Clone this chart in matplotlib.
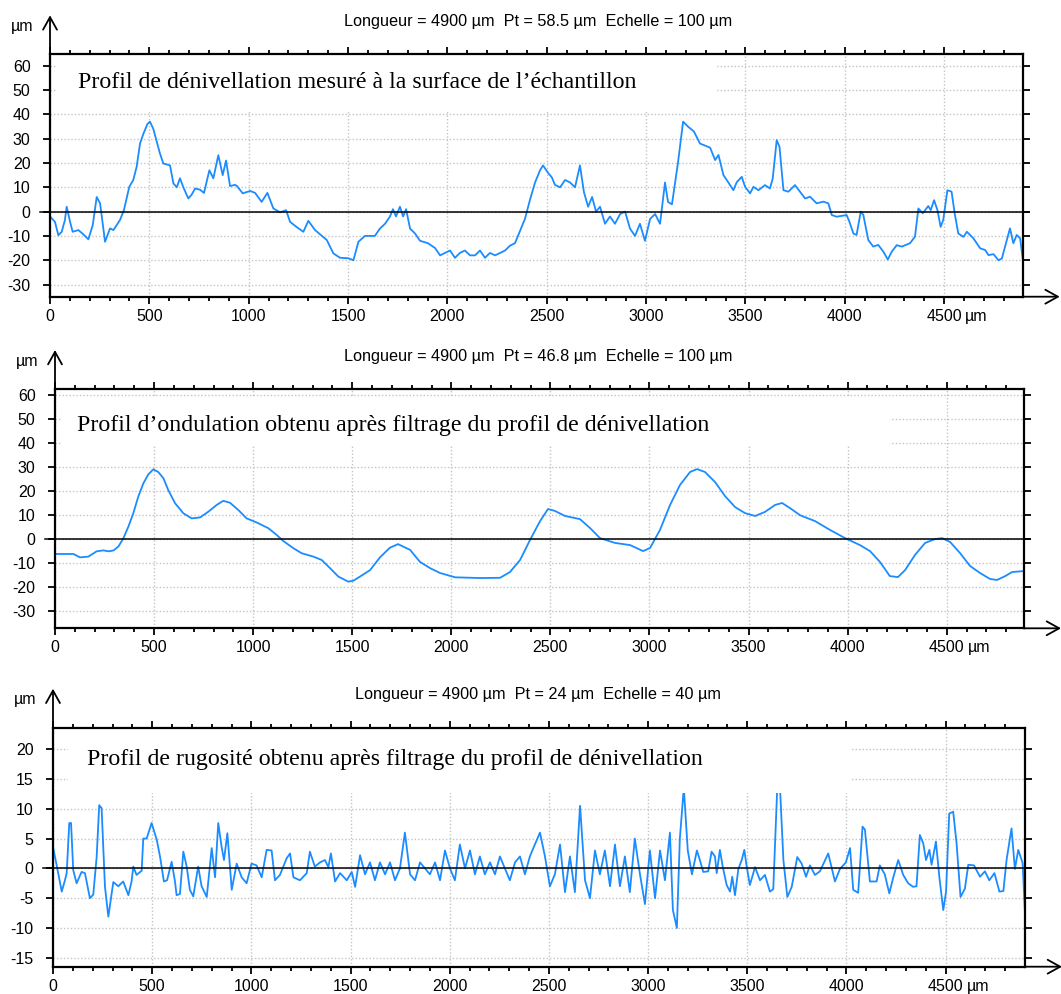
import matplotlib.pyplot as plt
from matplotlib.patches import Rectangle

plt.rcParams['axes.unicode_minus'] = False
plt.rcParams['font.family'] = ['Liberation Sans', 'DejaVu Sans']

# profil de dénivellation (µm)
x1 = [0, 25, 42, 59, 75, 84, 101, 114, 143, 170, 193, 215, 235, 252, 265, 277, 302, 319, 352, 372,
      399, 419, 436, 453, 470, 490, 503, 520, 540, 553, 570, 604, 621, 638, 654, 671, 696, 713, 730, 755,
      775, 802, 822, 847, 869, 886, 906, 931, 940, 970, 1007, 1032, 1065, 1094, 1124, 1158, 1188, 1208, 1242, 1275,
      1300, 1334, 1393, 1426, 1460, 1502, 1527, 1552, 1585, 1635, 1660, 1686, 1711, 1726, 1741, 1761, 1777, 1792, 1812, 1837,
      1862, 1902, 1938, 1963, 1988, 2013, 2038, 2063, 2088, 2114, 2139, 2164, 2189, 2214, 2240, 2265, 2290, 2315, 2340, 2365,
      2390, 2416, 2441, 2466, 2481, 2506, 2526, 2541, 2567, 2592, 2617, 2642, 2667, 2687, 2708, 2728, 2748, 2768, 2793, 2818,
      2843, 2869, 2894, 2919, 2944, 2969, 2994, 3020, 3045, 3070, 3095, 3110, 3130, 3160, 3186, 3210, 3240, 3271, 3322, 3347,
      3364, 3389, 3413, 3439, 3456, 3481, 3498, 3523, 3540, 3565, 3598, 3623, 3637, 3657, 3671, 3691, 3716, 3749, 3774, 3800,
      3825, 3858, 3892, 3917, 3934, 3959, 4009, 4023, 4043, 4059, 4080, 4093, 4118, 4143, 4168, 4194, 4216, 4236, 4261, 4286,
      4328, 4353, 4370, 4392, 4420, 4432, 4449, 4466, 4482, 4495, 4516, 4537, 4554, 4571, 4597, 4614, 4647, 4681, 4706, 4723,
      4748, 4773, 4790, 4811, 4831, 4848, 4865, 4882, 4895]
y1 = [-2, -4.2, -9.7, -8.3, -3.5, 2, -4.2, -8.3, -7.6, -9.5, -11.4, -5.6, 6, 3.4, -5, -12.4, -6.9, -7.6, -3.5, 0.6,
      10.2, 13, 18.4, 28, 32, 36, 37, 34, 28, 24, 19.8, 19, 11.6, 10, 13.7, 10, 5.4, 7, 9.5, 9,
      7.7, 17, 13.7, 23.2, 15, 21, 10.5, 11, 10.6, 7.5, 8.5, 7.7, 4, 7.7, 1.3, -0.3, 0.6, -4.2, -6.4, -8.3,
      -3.8, -7.6, -11.7, -17.2, -19, -19.2, -20, -12.4, -10, -10, -7, -5, -2, 1, -2, 2, -2, 1, -7, -9,
      -12, -13, -15, -18, -17, -16, -19, -17, -16, -18, -18, -16, -19, -17, -18, -17, -16, -14, -13, -8,
      -3, 5, 12, 17, 19, 16, 14, 11, 10, 13, 12, 10, 19, 8, 2, 6, 0, 2, -5, -2,
      -5, -1, 0, -7, -10, -5, -12, -3, -1, -5, 12, 4, 3, 20, 37, 35, 33, 28, 26.3, 21.2,
      23.3, 15, 12.1, 8.8, 12.1, 14.3, 10.2, 7.5, 10.2, 8.8, 10.9, 9.5, 13.6, 29.4, 26.7, 8.8, 8.2, 10.9, 8.2, 5.4,
      6.1, 3.4, 4.1, 3.4, -1.4, -2.1, -1.4, -4.2, -9, -9.6, 0, -1.4, -11.7, -14.4, -13.7, -16.5, -19.7, -16.5, -13.8, -14.4,
      -13, -10.3, 1.3, -0.7, 2.3, 0.6, 4.7, 0.6, -6.3, -3.5, 8.8, 8.2, -1.4, -9, -10.4, -8.3, -11, -15.1, -15.8, -17.9,
      -17.5, -20, -19.3, -13, -6.9, -13, -9.6, -11, -19.3]

# profil d'ondulation (µm)
x2 = [0, 93, 126, 168, 210, 244, 271, 296, 320, 345, 370, 395, 420, 446, 471, 496, 521, 547, 572, 606,
      648, 690, 732, 774, 816, 849, 883, 925, 967, 1018, 1077, 1119, 1152, 1203, 1245, 1304, 1346, 1388, 1430, 1480,
      1506, 1539, 1590, 1640, 1690, 1731, 1792, 1842, 1893, 1943, 2019, 2145, 2246, 2296, 2347, 2397, 2448, 2488, 2523, 2574,
      2649, 2700, 2750, 2826, 2902, 2968, 3003, 3053, 3104, 3154, 3205, 3240, 3280, 3331, 3381, 3432, 3482, 3533, 3583, 3634,
      3669, 3709, 3760, 3835, 3911, 3987, 4062, 4113, 4163, 4213, 4254, 4290, 4340, 4391, 4441, 4477, 4517, 4567, 4618, 4668,
      4719, 4754, 4795, 4830, 4890]
y2 = [-6.1, -6.1, -7.5, -7.2, -5, -4.6, -5, -4.6, -3, 0.4, 5.2, 10.8, 17.7, 23.3, 27, 29.1, 28, 25.4, 20.4, 15,
      10.8, 8.7, 9.1, 11.5, 14.3, 16, 15.2, 12.2, 8.7, 7, 4.6, 1.8, -0.7, -3.7, -5.8, -7.2, -8.6, -12, -15.5, -17.6,
      -17.2, -15.5, -12.8, -7.5, -3.5, -2, -4.4, -9.4, -12, -14, -15.8, -16.1, -16, -13.6, -8.6, -0.3, 7.6, 12.6, 11.8, 9.7,
      8.4, 4.7, 0.5, -1.5, -2.4, -4.9, -3.6, 3.9, 14.3, 22.6, 28, 29.2, 28, 23.8, 18, 13.4, 10.9, 9.7, 11.4, 14.3,
      15.1, 13, 10, 7.6, 3.9, 0.5, -2.4, -4.9, -9.4, -15.3, -15.7, -12.8, -6.5, -1.5, 0.1, 0.5, -1.1, -5.7, -11.1, -14,
      -16.5, -16.9, -15.3, -13.6, -13.2]

# profil de rugosité (µm)
x3 = [0, 18, 44, 61, 69, 82, 91, 102, 119, 144, 161, 186, 203, 220, 233, 245, 262, 279, 304, 329,
      354, 380, 396, 405, 421, 447, 455, 472, 497, 523, 540, 559, 575, 598, 615, 623, 640, 657, 674, 690,
      707, 732, 749, 775, 800, 817, 833, 850, 862, 879, 901, 926, 951, 976, 1001, 1026, 1052, 1077, 1102, 1119,
      1144, 1178, 1195, 1212, 1245, 1279, 1295, 1320, 1346, 1371, 1388, 1401, 1422, 1447, 1481, 1506, 1523, 1548, 1573, 1598,
      1623, 1648, 1674, 1699, 1724, 1749, 1774, 1800, 1825, 1850, 1875, 1900, 1926, 1951, 1976, 2001, 2026, 2051, 2077, 2102,
      2127, 2152, 2177, 2203, 2228, 2253, 2278, 2303, 2329, 2354, 2379, 2404, 2429, 2455, 2480, 2505, 2530, 2556, 2581, 2606,
      2631, 2657, 2682, 2707, 2732, 2757, 2782, 2808, 2833, 2858, 2883, 2908, 2933, 2959, 2984, 3009, 3035, 3060, 3085, 3110,
      3125, 3145, 3160, 3180, 3200, 3221, 3246, 3261, 3278, 3303, 3320, 3337, 3346, 3362, 3376, 3396, 3413, 3424, 3438, 3455,
      3472, 3485, 3497, 3513, 3539, 3564, 3589, 3614, 3631, 3651, 3665, 3682, 3702, 3724, 3752, 3774, 3796, 3816, 3841, 3866,
      3908, 3942, 3967, 3997, 4018, 4034, 4059, 4081, 4093, 4118, 4152, 4168, 4193, 4216, 4236, 4261, 4286, 4311, 4336, 4353,
      4370, 4387, 4401, 4418, 4429, 4451, 4468, 4488, 4502, 4518, 4538, 4555, 4575, 4597, 4614, 4643, 4673, 4698, 4720, 4746,
      4771, 4791, 4807, 4832, 4849, 4866, 4888, 4900]
y3 = [3.6, 0.6, -3.9, -1.9, -0.8, 7.6, 7.6, -0.3, -2.5, -0.6, -0.8, -5, -4.4, 1.9, 10.6, 10.1, -3.1, -8.1, -2.3, -3,
      -2.2, -4.5, -2.2, 0.3, -1.1, -0.4, 5, 5, 7.6, 4.8, 1.9, -2.2, -2, 1.1, -2.2, -4.5, -4.3, 2.8, 0.3, -3.6,
      -4.7, 0.3, -3, -4.8, 3.4, -1.5, 7.6, 3.6, 1.4, 5.9, -3.6, 0.8, -1.5, -2.5, 0.8, 0.5, -1.5, 3.1, 3, -2,
      -1.1, 1.7, 2.5, -1.5, -2, -0.8, 2.8, 0.3, 1, 1.4, 0.2, 2.5, -2.2, -0.8, -2, -0.6, -3.1, 2.2, -1, 1,
      -2, 1, -1, 1, -2, 0, 6, -1, -2, 1, 0, -1, 1, -2, 3, 0, -2, 4, 0, 3,
      -1, 2, -1, 1, -1, 2, 0, -2, 1, 2, -1, 2, 4, 6, 2, -3, -1, 4, -4, 2,
      -4, 10.5, -2, -5, 3, -1, 3, -3, 4, -3, 2, -4, 5, -1, -6, 3, -5, 3, -2, 6,
      -7, -10, 5, 13.5, 3, -1, 3, 1.4, -0.6, -0.5, 2.8, 2, -0.8, 3.1, 0.3, -2.8, -3.9, -1.4, -4.5, -0.1,
      1.4, 3.1, 0.3, -2.8, 0.2, -2, -1.1, -3.9, -3.5, 13.5, 13.5, 1.4, -4.8, -3.1, 1.9, 0.8, -1.4, 0.5, -1.1, -0.5,
      2.5, -2.2, -0.1, 1, 3.4, -3.6, -4.1, 7, 6.5, -2.2, -2.2, 0.5, -1, -4.2, -1.5, 1.4, -1.1, -2.5, -3.1, -3,
      5.6, 4.2, 1.4, 3.1, 0.6, 4.5, -1.4, -7, -3.9, 9.2, 9.5, 4.2, -4.8, -3.4, 0.6, 0.5, -1.4, -0.5, -2, -0.8,
      -3.9, -3.8, 1.4, 6.7, -0.1, 3.1, 0.9, -7.6]

titles = ['Longueur = 4900 µm  Pt = 58.5 µm  Echelle = 100 µm',
          'Longueur = 4900 µm  Pt = 46.8 µm  Echelle = 100 µm',
          'Longueur = 4900 µm  Pt = 24 µm  Echelle = 40 µm']
notes = ['Profil de dénivellation mesuré à la surface de l\u2019échantillon',
         'Profil d\u2019ondulation obtenu après filtrage du profil de dénivellation',
         'Profil de rugosité obtenu après filtrage du profil de dénivellation']
xticks = [0, 500, 1000, 1500, 2000, 2500, 3000, 3500, 4000, 4500]
xticklabels = ['0', '500', '1000', '1500', '2000', '2500', '3000', '3500', '4000', '4500']
yticks = [list(range(-30, 61, 10)), list(range(-30, 61, 10)), list(range(-15, 21, 5))]

W, H = 1061, 994
frames = [(50, 54.3, 1022.7, 296.7), (55, 389, 1024, 628.3), (53, 727.7, 1025, 966.7)]
xmaxs = [4895, 4890, 4900]
ylims = [(-35, 64.7), (-37, 62.5), (-16.5, 23.6)]
boxes = [(57, 54.3, 716, 110), (62, 397, 890, 446), (68, 727.7, 850, 793)]
note_xy = [(78, 88.5), (77, 431), (87, 765)]

fig = plt.figure(figsize=(W / 100, H / 100), dpi=100)
blue = '#1a8cff'
grey = '#c4c4c4'

for i, (xs, ys) in enumerate([(x1, y1), (x2, y2), (x3, y3)]):
    l, t, r, b = frames[i]
    pw, ph = r - l, b - t
    ax = fig.add_axes([l / W, 1 - b / H, pw / W, ph / H])
    ax.plot(xs, ys, color=blue, lw=1.3, zorder=2)
    ax.plot([-50, xmaxs[i] + 30], [0, 0], color='k', lw=1.1, clip_on=False, zorder=3)
    ax.set_xlim(0, xmaxs[i])
    ax.set_ylim(*ylims[i])

    ax.set_xticks(xticks)
    ax.set_xticklabels(xticklabels)
    ax.set_xticks(range(0, xmaxs[i], 100), minor=True)
    ax.set_yticks(yticks[i])
    ax.set_yticklabels([str(v) for v in yticks[i]])
    ax.tick_params(which='both', direction='out', top=True, right=True,
                   labeltop=False, labelright=False, width=1.3, labelsize=11.5)
    ax.tick_params(axis='x', which='major', length=5, pad=3.5)
    ax.tick_params(axis='x', which='minor', length=3)
    ax.tick_params(axis='y', which='major', length=5, pad=9)
    for s in ax.spines.values():
        s.set_linewidth(1.6)
        s.set_zorder(6)

    ax.grid(True, which='major', color=grey, linestyle=(0, (1, 1.5)), lw=1.0)
    ax.set_axisbelow(True)

    bx0, by0, bx1, by1 = boxes[i]
    ax.add_patch(Rectangle(((bx0 - l) / pw, (b - by1) / ph), (bx1 - bx0) / pw, (by1 - by0) / ph,
                           transform=ax.transAxes, facecolor='white', edgecolor='none', zorder=4))

    arrow = dict(arrowstyle='->,head_length=0.9,head_width=0.5', lw=1.3, color='k',
                 shrinkA=0, shrinkB=0, mutation_scale=10)
    ax.annotate('', xy=(0, 1 + 39 / ph), xytext=(0, 1), xycoords='axes fraction',
                arrowprops=arrow, annotation_clip=False)
    ax.annotate('', xy=(1 + 37 / pw, 0), xytext=(1, 0), xycoords='axes fraction',
                arrowprops=arrow, annotation_clip=False)

    ax.annotate('µm', xy=(0, 1), xycoords='axes fraction', xytext=(-28, 28),
                textcoords='offset pixels', ha='center', va='center', fontsize=11.5)
    ax.annotate('µm', xy=(4500, 0), xycoords=('data', 'axes fraction'), xytext=(21, -11.8),
                textcoords='offset pixels', ha='left', va='top', fontsize=11.5)

    fig.text(538 / W, 1 - (t - 33) / H, titles[i], ha='center', va='center', fontsize=11.7)
    nx, ny = note_xy[i]
    fig.text(nx / W, 1 - ny / H, notes[i], ha='left', va='baseline', fontsize=17.2,
             family='Liberation Serif')

fig.savefig('out.png', dpi=100)
